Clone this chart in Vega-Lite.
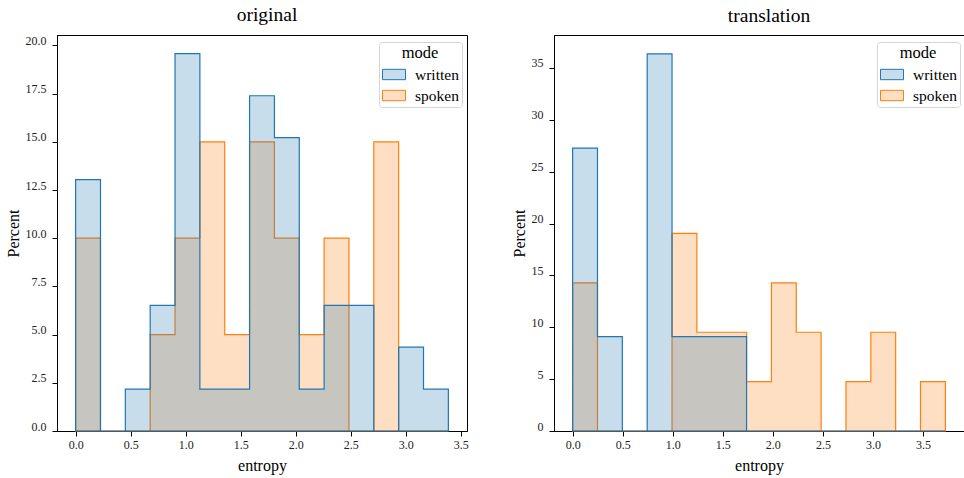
{
  "$schema": "https://vega.github.io/schema/vega-lite/v6.json",
  "padding": {"left": 4, "top": 4, "right": 0, "bottom": 4},
  "spacing": 41,
  "data": {"values": [
    {"panel": "original", "mode": "written", "start": 0, "end": 0.2259, "percent": 13.04},
    {"panel": "original", "mode": "written", "start": 0.2259, "end": 0.4518, "percent": 0},
    {"panel": "original", "mode": "written", "start": 0.4518, "end": 0.6777, "percent": 2.17},
    {"panel": "original", "mode": "written", "start": 0.6777, "end": 0.9036, "percent": 6.52},
    {"panel": "original", "mode": "written", "start": 0.9036, "end": 1.1295, "percent": 19.57},
    {"panel": "original", "mode": "written", "start": 1.1295, "end": 1.3554, "percent": 2.17},
    {"panel": "original", "mode": "written", "start": 1.3554, "end": 1.5813, "percent": 2.17},
    {"panel": "original", "mode": "written", "start": 1.5813, "end": 1.8072, "percent": 17.39},
    {"panel": "original", "mode": "written", "start": 1.8072, "end": 2.0331, "percent": 15.22},
    {"panel": "original", "mode": "written", "start": 2.0331, "end": 2.259, "percent": 2.17},
    {"panel": "original", "mode": "written", "start": 2.259, "end": 2.4849, "percent": 6.52},
    {"panel": "original", "mode": "written", "start": 2.4849, "end": 2.7108, "percent": 6.52},
    {"panel": "original", "mode": "written", "start": 2.7108, "end": 2.9367, "percent": 0},
    {"panel": "original", "mode": "written", "start": 2.9367, "end": 3.1626, "percent": 4.35},
    {"panel": "original", "mode": "written", "start": 3.1626, "end": 3.3885, "percent": 2.17},
    {"panel": "original", "mode": "spoken", "start": 0, "end": 0.2259, "percent": 10},
    {"panel": "original", "mode": "spoken", "start": 0.2259, "end": 0.4518, "percent": 0},
    {"panel": "original", "mode": "spoken", "start": 0.4518, "end": 0.6777, "percent": 0},
    {"panel": "original", "mode": "spoken", "start": 0.6777, "end": 0.9036, "percent": 5},
    {"panel": "original", "mode": "spoken", "start": 0.9036, "end": 1.1295, "percent": 10},
    {"panel": "original", "mode": "spoken", "start": 1.1295, "end": 1.3554, "percent": 15},
    {"panel": "original", "mode": "spoken", "start": 1.3554, "end": 1.5813, "percent": 5},
    {"panel": "original", "mode": "spoken", "start": 1.5813, "end": 1.8072, "percent": 15},
    {"panel": "original", "mode": "spoken", "start": 1.8072, "end": 2.0331, "percent": 10},
    {"panel": "original", "mode": "spoken", "start": 2.0331, "end": 2.259, "percent": 5},
    {"panel": "original", "mode": "spoken", "start": 2.259, "end": 2.4849, "percent": 10},
    {"panel": "original", "mode": "spoken", "start": 2.4849, "end": 2.7108, "percent": 0},
    {"panel": "original", "mode": "spoken", "start": 2.7108, "end": 2.9367, "percent": 15},
    {"panel": "original", "mode": "spoken", "start": 2.9367, "end": 3.1626, "percent": 0},
    {"panel": "original", "mode": "spoken", "start": 3.1626, "end": 3.3885, "percent": 0},
    {"panel": "translation", "mode": "written", "start": 0, "end": 0.2482, "percent": 27.27},
    {"panel": "translation", "mode": "written", "start": 0.2482, "end": 0.4964, "percent": 9.09},
    {"panel": "translation", "mode": "written", "start": 0.4964, "end": 0.7446, "percent": 0},
    {"panel": "translation", "mode": "written", "start": 0.7446, "end": 0.9928, "percent": 36.36},
    {"panel": "translation", "mode": "written", "start": 0.9928, "end": 1.241, "percent": 9.09},
    {"panel": "translation", "mode": "written", "start": 1.241, "end": 1.4892, "percent": 9.09},
    {"panel": "translation", "mode": "written", "start": 1.4892, "end": 1.7374, "percent": 9.09},
    {"panel": "translation", "mode": "written", "start": 1.7374, "end": 1.9856, "percent": 0},
    {"panel": "translation", "mode": "written", "start": 1.9856, "end": 2.2338, "percent": 0},
    {"panel": "translation", "mode": "written", "start": 2.2338, "end": 2.482, "percent": 0},
    {"panel": "translation", "mode": "written", "start": 2.482, "end": 2.7302, "percent": 0},
    {"panel": "translation", "mode": "written", "start": 2.7302, "end": 2.9784, "percent": 0},
    {"panel": "translation", "mode": "written", "start": 2.9784, "end": 3.2266, "percent": 0},
    {"panel": "translation", "mode": "written", "start": 3.2266, "end": 3.4748, "percent": 0},
    {"panel": "translation", "mode": "written", "start": 3.4748, "end": 3.723, "percent": 0},
    {"panel": "translation", "mode": "spoken", "start": 0, "end": 0.2482, "percent": 14.29},
    {"panel": "translation", "mode": "spoken", "start": 0.2482, "end": 0.4964, "percent": 0},
    {"panel": "translation", "mode": "spoken", "start": 0.4964, "end": 0.7446, "percent": 0},
    {"panel": "translation", "mode": "spoken", "start": 0.7446, "end": 0.9928, "percent": 0},
    {"panel": "translation", "mode": "spoken", "start": 0.9928, "end": 1.241, "percent": 19.05},
    {"panel": "translation", "mode": "spoken", "start": 1.241, "end": 1.4892, "percent": 9.52},
    {"panel": "translation", "mode": "spoken", "start": 1.4892, "end": 1.7374, "percent": 9.52},
    {"panel": "translation", "mode": "spoken", "start": 1.7374, "end": 1.9856, "percent": 4.76},
    {"panel": "translation", "mode": "spoken", "start": 1.9856, "end": 2.2338, "percent": 14.29},
    {"panel": "translation", "mode": "spoken", "start": 2.2338, "end": 2.482, "percent": 9.52},
    {"panel": "translation", "mode": "spoken", "start": 2.482, "end": 2.7302, "percent": 0},
    {"panel": "translation", "mode": "spoken", "start": 2.7302, "end": 2.9784, "percent": 4.76},
    {"panel": "translation", "mode": "spoken", "start": 2.9784, "end": 3.2266, "percent": 9.52},
    {"panel": "translation", "mode": "spoken", "start": 3.2266, "end": 3.4748, "percent": 0},
    {"panel": "translation", "mode": "spoken", "start": 3.4748, "end": 3.723, "percent": 4.76}
  ]},
  "hconcat": [
    {
      "width": 410,
      "height": 396,
      "title": {"text": "original", "dx": 5},
      "transform": [
        {"filter": "datum.panel === 'original'"},
        {"fold": ["start", "end"], "as": ["edge", "x"]}
      ],
      "encoding": {
        "x": {"field": "x", "type": "quantitative", "title": "entropy",
              "scale": {"domain": [-0.1694, 3.5579], "nice": false, "zero": false},
              "axis": {"values": [0, 0.5, 1, 1.5, 2, 2.5, 3, 3.5], "format": ".1f"}},
        "y": {"field": "percent", "type": "quantitative", "title": "Percent", "stack": null,
              "scale": {"domain": [0, 20.54], "nice": false},
              "axis": {"values": [0, 2.5, 5, 7.5, 10, 12.5, 15, 17.5, 20], "format": ".1f"}},
        "fill": {"field": "mode", "type": "nominal",
                 "scale": {"domain": ["written", "spoken"], "range": ["#1f77b4", "#ff7f0e"]},
                 "legend": {"orient": "none", "legendX": 322, "legendY": 7,
                            "encode": {"symbols": {"update": {"fillOpacity": {"value": 0.25}, "strokeOpacity": {"value": 1}, "opacity": {"value": 1}}}}}},
        "stroke": {"field": "mode", "type": "nominal",
                   "scale": {"domain": ["written", "spoken"], "range": ["#1f77b4", "#ff7f0e"]},
                   "legend": {"orient": "none", "legendX": 322, "legendY": 7,
                              "encode": {"symbols": {"update": {"fillOpacity": {"value": 0.25}, "strokeOpacity": {"value": 1}, "opacity": {"value": 1}}}}}},
        "order": [{"field": "x", "type": "quantitative", "sort": "ascending"},
                  {"field": "edge", "type": "nominal", "sort": "ascending"}]
      },
      "layer": [
        {"transform": [{"filter": "datum.mode === 'spoken'"}],
         "mark": {"type": "area", "fillOpacity": 0.25, "strokeOpacity": 1, "strokeWidth": 1.2}},
        {"transform": [{"filter": "datum.mode === 'written'"}],
         "mark": {"type": "area", "fillOpacity": 0.25, "strokeOpacity": 1, "strokeWidth": 1.2}}
      ]
    },
    {
      "width": 410,
      "height": 396,
      "title": {"text": "translation", "dx": 10},
      "transform": [
        {"filter": "datum.panel === 'translation'"},
        {"fold": ["start", "end"], "as": ["edge", "x"]}
      ],
      "encoding": {
        "x": {"field": "x", "type": "quantitative", "title": "entropy",
              "scale": {"domain": [-0.1862, 3.9092], "nice": false, "zero": false},
              "axis": {"values": [0, 0.5, 1, 1.5, 2, 2.5, 3, 3.5], "format": ".1f"}},
        "y": {"field": "percent", "type": "quantitative", "title": "Percent", "stack": null,
              "scale": {"domain": [0, 38.18], "nice": false},
              "axis": {"values": [0, 5, 10, 15, 20, 25, 30, 35], "format": "d"}},
        "fill": {"field": "mode", "type": "nominal",
                 "scale": {"domain": ["written", "spoken"], "range": ["#1f77b4", "#ff7f0e"]},
                 "legend": {"orient": "none", "legendX": 323, "legendY": 7,
                            "encode": {"symbols": {"update": {"fillOpacity": {"value": 0.25}, "strokeOpacity": {"value": 1}, "opacity": {"value": 1}}}}}},
        "stroke": {"field": "mode", "type": "nominal",
                   "scale": {"domain": ["written", "spoken"], "range": ["#1f77b4", "#ff7f0e"]},
                   "legend": {"orient": "none", "legendX": 323, "legendY": 7,
                              "encode": {"symbols": {"update": {"fillOpacity": {"value": 0.25}, "strokeOpacity": {"value": 1}, "opacity": {"value": 1}}}}}},
        "order": [{"field": "x", "type": "quantitative", "sort": "ascending"},
                  {"field": "edge", "type": "nominal", "sort": "ascending"}]
      },
      "layer": [
        {"transform": [{"filter": "datum.mode === 'spoken'"}],
         "mark": {"type": "area", "fillOpacity": 0.25, "strokeOpacity": 1, "strokeWidth": 1.2}},
        {"transform": [{"filter": "datum.mode === 'written'"}],
         "mark": {"type": "area", "fillOpacity": 0.25, "strokeOpacity": 1, "strokeWidth": 1.2}}
      ]
    }
  ],
  "resolve": {
    "scale": {"x": "independent", "y": "independent", "fill": "independent", "stroke": "independent"},
    "legend": {"fill": "independent", "stroke": "independent"}
  },
  "config": {
    "font": "Liberation Serif",
    "view": {"stroke": "black", "strokeWidth": 1},
    "title": {"fontSize": 19.5, "fontWeight": "normal", "font": "Liberation Serif", "color": "black", "frame": "group", "anchor": "middle", "offset": 9},
    "axis": {
      "grid": false, "domainColor": "black", "domainWidth": 1, "tickColor": "black", "tickSize": 5, "tickWidth": 1,
      "labelFont": "Liberation Serif", "labelFontSize": 12, "labelColor": "#222", "labelPadding": 6,
      "titleFont": "Liberation Serif", "titleFontSize": 16, "titleFontWeight": "normal", "titleColor": "black"
    },
    "axisX": {"labelPadding": 3, "titlePadding": 7},
    "axisY": {"titlePadding": 4, "labelOffset": -5},
    "legend": {
      "titleFont": "Liberation Serif", "titleFontSize": 16.5, "titleFontWeight": "normal", "titleColor": "black", "titleAnchor": "middle", "titlePadding": 1,
      "labelFont": "Liberation Serif", "labelFontSize": 15.5, "labelColor": "black", "labelOffset": 9,
      "symbolType": "M-1,-0.45H1V0.45H-1Z", "symbolSize": 529, "symbolStrokeWidth": 1,
      "rowPadding": -1.5, "padding": 3, "strokeColor": "#d5d5d5", "fillColor": "white", "cornerRadius": 3,
      "symbolOffset": 0
    }
  }
}
